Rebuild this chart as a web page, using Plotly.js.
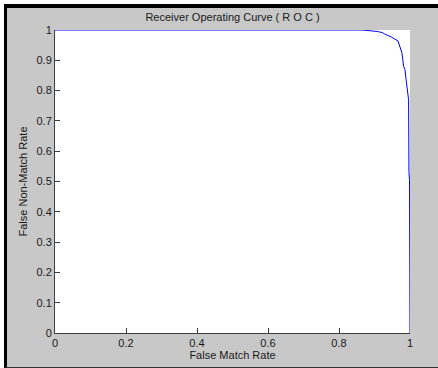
<!DOCTYPE html>
<html>
<head>
<meta charset="utf-8">
<script src="https://cdn.plot.ly/plotly-3.0.1.min.js"></script>
<style>
  html, body { margin: 0; padding: 0; background: #ffffff; width: 438px; height: 368px; overflow: hidden; }
  #frame {
    position: absolute; left: 4px; top: 4px;
    width: 431px; height: 359px;
    border-left: 3px solid #000; border-top: 4px solid #000;
    border-bottom: 1px solid #333; border-right: 0;
    background: #c8c8c8;
  }
  #chart { width: 431px; height: 359px; }
</style>
</head>
<body>
<div id="frame"><div id="chart"></div></div>
<script>
// False Match Rate (x) and False Non-Match Rate (y)
const fmr  = [0, 0.866, 0.909, 0.923, 0.928, 0.947, 0.966, 0.970, 0.977, 0.982, 0.986, 0.989, 0.992, 0.996, 0.997, 0.9986, 1.0];
const fnmr = [1, 1, 0.995, 0.991, 0.987, 0.977, 0.964, 0.952, 0.926, 0.880, 0.869, 0.836, 0.810, 0.770, 0.529, 0.506, 0];

const xTicks = [0, 0.2, 0.4, 0.6, 0.8, 1];
const xTickText = ['0', '0.2', '0.4', '0.6', '0.8', '1'];
const yTicks = [0, 0.1, 0.2, 0.3, 0.4, 0.5, 0.6, 0.7, 0.8, 0.9, 1];
const yTickText = ['0', '0.1', '0.2', '0.3', '0.4', '0.5', '0.6', '0.7', '0.8', '0.9', '1'];

const titleText = 'Receiver Operating Curve ( R O C )';
const xTitle = 'False Match Rate';
const yTitle = 'False Non-Match Rate';

const font = { family: 'Liberation Sans, Arial, sans-serif', size: 11, color: '#1a1a1a' };

const trace = {
  x: fmr, y: fnmr, type: 'scatter', mode: 'lines',
  line: { color: '#0000ff', width: 1 },
  hoverinfo: 'skip'
};

const axisCommon = {
  range: [0, 1], autorange: false, showgrid: false, zeroline: false,
  showline: true, linecolor: '#404040', linewidth: 1, mirror: false,
  ticks: 'inside', ticklen: 5, tickwidth: 1, tickcolor: '#404040',
  tickfont: font, tickmode: 'array'
};

const layout = {
  width: 431, height: 359,
  margin: { l: 48, r: 28, t: 22, b: 34 },
  paper_bgcolor: '#c8c8c8', plot_bgcolor: '#ffffff',
  font: font,
  showlegend: false,
  title: { text: titleText, font: { family: font.family, size: 11, color: '#1a1a1a' }, x: 0.5, xref: 'paper', xanchor: 'center', y: 1, yref: 'container', yanchor: 'top', pad: { t: 5 } },
  xaxis: Object.assign({}, axisCommon, { automargin: false, tickvals: xTicks, ticktext: xTickText, title: { text: xTitle, font: font, standoff: 0 } }),
  yaxis: Object.assign({}, axisCommon, { automargin: true, tickvals: yTicks, ticktext: yTickText, title: { text: yTitle, font: font, standoff: 6 } })
};

Plotly.newPlot('chart', [trace], layout, { displayModeBar: false, staticPlot: true });
</script>
</body>
</html>
